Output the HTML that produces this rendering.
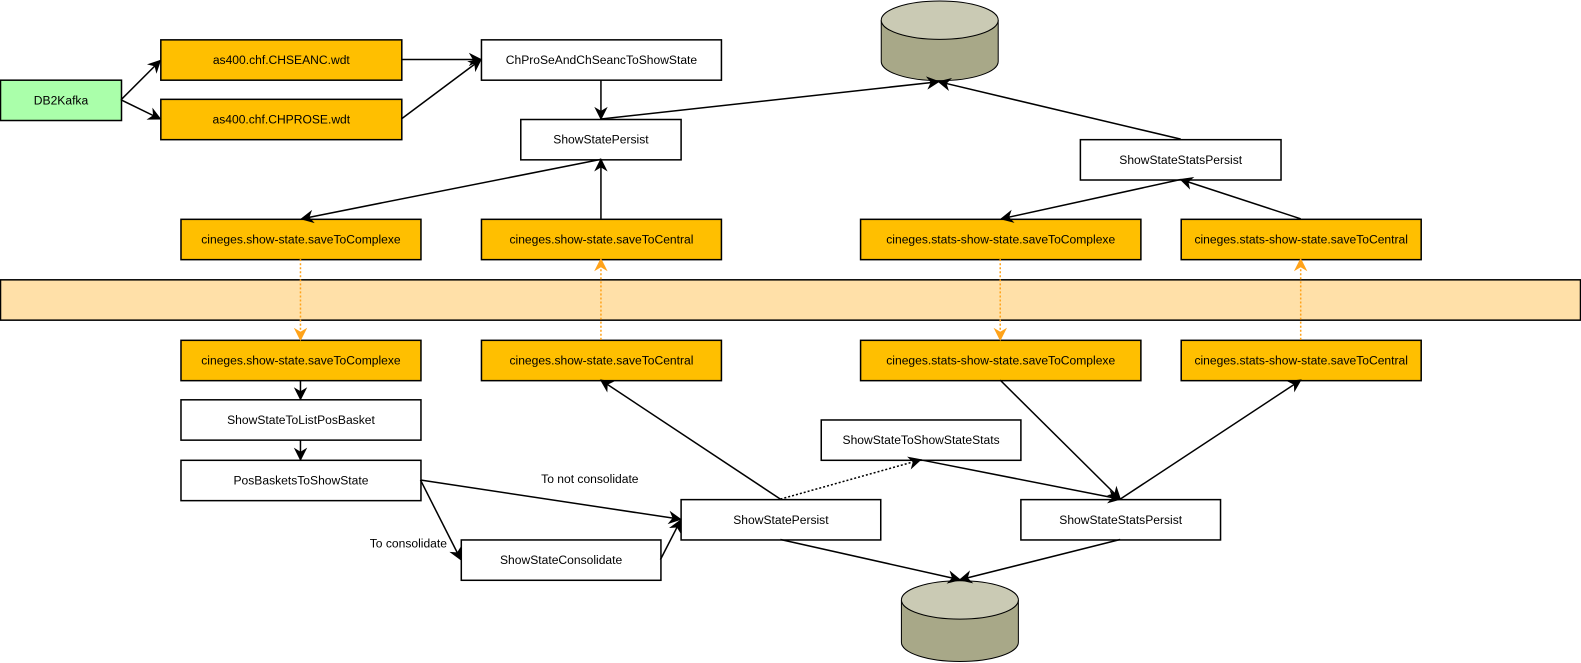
<!DOCTYPE html>
<html><head><meta charset="utf-8"><style>
html,body{margin:0;padding:0;background:#fff;}
svg{display:block;}
text{font-family:"Liberation Sans",sans-serif;font-size:12px;fill:#000;}
</style></head><body>
<svg width="1581" height="663" viewBox="0 0 1568 657.5" xmlns="http://www.w3.org/2000/svg">
<defs>
<marker id="a" viewBox="0 0 10 10" refX="9" refY="5" markerWidth="7" markerHeight="7" orient="auto" markerUnits="userSpaceOnUse" style="overflow:visible">
<path d="M0,0 L10,5 L0,10 L3,5 z" fill="#000" transform="scale(1.9) translate(-4.3,-2.4)"/>
</marker>
<marker id="o" viewBox="0 0 10 10" refX="9" refY="5" markerWidth="7" markerHeight="7" orient="auto" markerUnits="userSpaceOnUse" style="overflow:visible">
<path d="M0,0 L10,5 L0,10 L3,5 z" fill="#ffa31a" transform="scale(1.9) translate(-4.3,-2.4)"/>
</marker>
</defs>

<rect x="0.5" y="277.5" width="1567" height="40" fill="#ffe0a8" stroke="#000" stroke-width="1.5"/>

<g stroke="#000" stroke-width="1.5">
<rect x="0.5" y="79.5" width="120" height="40" fill="#aaffaa"/>
<rect x="159.5" y="39.5" width="239" height="40" fill="#ffbf00"/>
<rect x="159.5" y="98.5" width="239" height="40" fill="#ffbf00"/>
<rect x="477.5" y="39.5" width="238" height="40" fill="#fff"/>
<rect x="516.5" y="118.5" width="159" height="40" fill="#fff"/>
<rect x="1071.5" y="138.5" width="199" height="40" fill="#fff"/>
<rect x="179.5" y="217.5" width="238" height="40" fill="#ffbf00"/>
<rect x="477.5" y="217.5" width="238" height="40" fill="#ffbf00"/>
<rect x="853.5" y="217.5" width="278" height="40" fill="#ffbf00"/>
<rect x="1171.5" y="217.5" width="238" height="40" fill="#ffbf00"/>
<rect x="179.5" y="337.5" width="238" height="40" fill="#ffbf00"/>
<rect x="477.5" y="337.5" width="238" height="40" fill="#ffbf00"/>
<rect x="853.5" y="337.5" width="278" height="40" fill="#ffbf00"/>
<rect x="1171.5" y="337.5" width="238" height="40" fill="#ffbf00"/>
<rect x="179.5" y="396.5" width="238" height="40" fill="#fff"/>
<rect x="179.5" y="456.5" width="238" height="40" fill="#fff"/>
<rect x="814.5" y="416.5" width="198" height="40" fill="#fff"/>
<rect x="675.5" y="495.5" width="198" height="40" fill="#fff"/>
<rect x="1012.5" y="495.5" width="198" height="40" fill="#fff"/>
<rect x="457.5" y="535.5" width="198" height="40" fill="#fff"/>
</g>

<g stroke="#000" stroke-width="1">
<path d="M874,20 L874,61 A58,19 0 0 0 990,61 L990,20" fill="#a8a888"/>
<ellipse cx="932" cy="20" rx="58" ry="19" fill="#cacab4"/>
<path d="M894,595 L894,637 A58,19 0 0 0 1010,637 L1010,595" fill="#a8a888"/>
<ellipse cx="952" cy="595" rx="58" ry="19" fill="#cacab4"/>
</g>

<g fill="none" stroke="#000" stroke-width="1.5" marker-end="url(#a)">
<line x1="120" y1="99" x2="159" y2="60"/>
<line x1="120" y1="99" x2="159" y2="118"/>
<line x1="398" y1="59" x2="477" y2="59"/>
<line x1="398" y1="118" x2="477" y2="59"/>
<line x1="596" y1="79" x2="596" y2="118"/>
<line x1="596" y1="118" x2="931" y2="81"/>
<line x1="1171" y1="138" x2="931" y2="81"/>
<line x1="596" y1="158" x2="299" y2="217"/>
<line x1="596" y1="217" x2="596" y2="158"/>
<line x1="1171" y1="178" x2="993" y2="217"/>
<line x1="1290" y1="217" x2="1171" y2="178"/>
<line x1="298" y1="377" x2="298" y2="396"/>
<line x1="298" y1="436" x2="298" y2="456"/>
<line x1="417" y1="476" x2="675" y2="515"/>
<line x1="417" y1="476" x2="457" y2="555"/>
<line x1="655" y1="555" x2="675" y2="516"/>
<line x1="774" y1="495" x2="596" y2="377"/>
<line x1="774" y1="495" x2="913" y2="456" stroke-dasharray="2,2"/>
<line x1="913" y1="456" x2="1111" y2="495"/>
<line x1="992" y1="377" x2="1111" y2="495"/>
<line x1="1111" y1="495" x2="1290" y2="377"/>
<line x1="774" y1="535" x2="952" y2="575"/>
<line x1="1111" y1="535" x2="952" y2="575"/>
</g>

<g fill="none" stroke="#ffa31a" stroke-width="1.5" stroke-dasharray="2,2" marker-end="url(#o)">
<line x1="298" y1="257" x2="298" y2="337"/>
<line x1="596" y1="337" x2="596" y2="257"/>
<line x1="992" y1="257" x2="992" y2="337"/>
<line x1="1290" y1="337" x2="1290" y2="257"/>
</g>

<g text-anchor="middle">
<text x="60.5" y="103.5">DB2Kafka</text>
<text x="279" y="63.5">as400.chf.CHSEANC.wdt</text>
<text x="279" y="122.5">as400.chf.CHPROSE.wdt</text>
<text x="596.5" y="63.5">ChProSeAndChSeancToShowState</text>
<text x="596" y="142.5">ShowStatePersist</text>
<text x="1171" y="162.5">ShowStateStatsPersist</text>
<text x="298.5" y="241.5">cineges.show-state.saveToComplexe</text>
<text x="596.5" y="241.5">cineges.show-state.saveToCentral</text>
<text x="992.5" y="241.5">cineges.stats-show-state.saveToComplexe</text>
<text x="1290.5" y="241.5">cineges.stats-show-state.saveToCentral</text>
<text x="298.5" y="361.5">cineges.show-state.saveToComplexe</text>
<text x="596.5" y="361.5">cineges.show-state.saveToCentral</text>
<text x="992.5" y="361.5">cineges.stats-show-state.saveToComplexe</text>
<text x="1290.5" y="361.5">cineges.stats-show-state.saveToCentral</text>
<text x="298.5" y="420.5">ShowStateToListPosBasket</text>
<text x="298.5" y="480.5">PosBasketsToShowState</text>
<text x="913.5" y="440.5">ShowStateToShowStateStats</text>
<text x="774.5" y="519.5">ShowStatePersist</text>
<text x="1111.5" y="519.5">ShowStateStatsPersist</text>
<text x="556.5" y="559.5">ShowStateConsolidate</text>
<text x="585" y="479">To not consolidate</text>
<text x="405" y="543">To consolidate</text>
</g>
</svg>
</body></html>
